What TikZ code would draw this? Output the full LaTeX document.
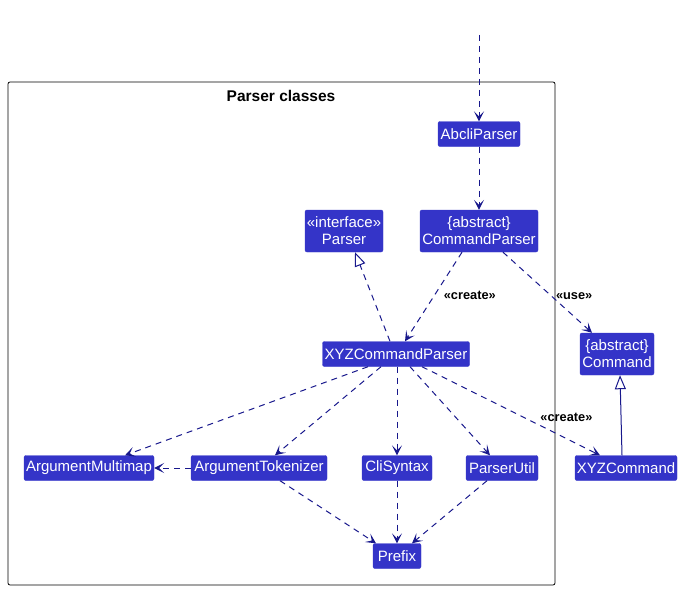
\documentclass[tikz,border=0pt]{standalone}
\usepackage{fontspec}
\setmainfont{Liberation Sans}
\usetikzlibrary{arrows.meta}
\definecolor{classfill}{RGB}{52,52,200}
\definecolor{edgeblue}{RGB}{24,24,140}
\tikzset{
  cls/.style={fill=classfill, draw=classfill, rounded corners=2pt, text=white,
    font=\fontsize{15}{17}\selectfont, align=center, inner sep=0pt,
    minimum height=25pt},
  dep/.style={draw=edgeblue, dashed, dash pattern=on 6pt off 5pt, line width=1pt,
    -{Stealth[length=10pt, width=10pt, inset=5pt]}},
  real/.style={draw=edgeblue, dashed, dash pattern=on 6pt off 5pt, line width=1pt,
    -{Triangle[open, length=14pt, width=11pt, fill=white]}},
  gen/.style={draw=edgeblue, line width=1pt,
    -{Triangle[open, length=14pt, width=11pt, fill=white]}},
  stereo/.style={font=\bfseries\fontsize{12.8}{14}\selectfont, text=black, inner sep=1pt},
}
\begin{document}
\begin{tikzpicture}[x=1pt, y=-1pt]
\useasboundingbox (0,0) rectangle (684,591);
% package frame
\draw[line width=0.8pt, rounded corners=2pt] (8,82) rectangle (555,585);
\node[font=\bfseries\fontsize{15.5}{17}\selectfont] (title) at (281,96) {Parser classes};

% classes
\node[cls, minimum width=82pt] (abcli) at (479,134) {AbcliParser};
\node[cls, minimum width=118pt, minimum height=42pt] (cmdp) at (479,231) {\{abstract\}\\CommandParser};
\node[cls, minimum width=78pt, minimum height=42pt] (parser) at (344,231) {«interface»\\Parser};
\node[cls, minimum width=147pt] (xyzp) at (396,354) {XYZCommandParser};
\node[cls, minimum width=74pt, minimum height=42pt] (cmd) at (617,354) {\{abstract\}\\Command};
\node[cls, minimum width=130pt] (amap) at (89,468) {ArgumentMultimap};
\node[cls, minimum width=136pt] (atok) at (259,468) {ArgumentTokenizer};
\node[cls, minimum width=70pt] (cli) at (397,468) {CliSyntax};
\node[cls, minimum width=72pt] (putil) at (502,468) {ParserUtil};
\node[cls, minimum width=102pt] (xyzc) at (626,468) {XYZCommand};
\node[cls, minimum width=48pt] (prefix) at (397,556) {Prefix};

% entry point
\coordinate (entry) at (479,35);
\draw[dep] (entry) -- (abcli.north);

% dependencies
\draw[dep] (abcli.south) -- (cmdp.north);
\draw[dep] (cmdp.south -| 462,0) -- node[stereo, right, pos=0.45, xshift=6pt, yshift=-3pt] {«create»} (xyzp.north -| 405,0);
\draw[dep] (cmdp.south -| 503,0) -- node[stereo, pos=0.5, right, xshift=7pt, yshift=-4pt] {«use»} (cmd.north -| 592,0);
\draw[real] (xyzp.north -| 390,0) -- (parser.south -| 355,0);
\draw[gen] (xyzc.north -| 622,0) -- (cmd.south -| 620,0);

\draw[dep] (xyzp.south -| 368,0) -- (amap.north -| 125,0);
\draw[dep] (xyzp.south -| 381,0) -- (atok.north -| 275,0);
\draw[dep] (xyzp.south -| 397,0) -- (cli.north);
\draw[dep] (xyzp.south -| 410,0) -- (putil.north -| 490,0);
\draw[dep] (xyzp.south -| 422,0) -- node[stereo, pos=0.8, above, xshift=2pt, yshift=14pt] {«create»} (xyzc.north -| 600,0);

\draw[dep] (atok.west) -- (amap.east);
\draw[dep] (atok.south -| 280,0) -- (prefix.north -| 376,0);
\draw[dep] (cli.south) -- (prefix.north);
\draw[dep] (putil.south -| 487,0) -- (prefix.north -| 412,0);
\end{tikzpicture}
\end{document}
